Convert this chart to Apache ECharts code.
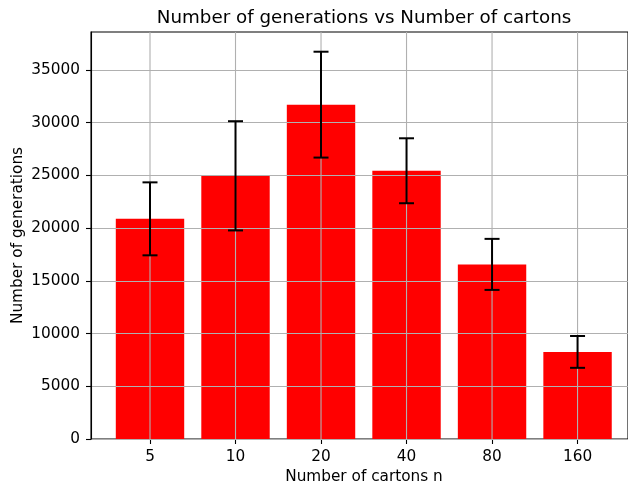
<!DOCTYPE html>
<html>
<head>
<meta charset="utf-8">
<script src="https://cdn.jsdelivr.net/npm/echarts@6/dist/echarts.min.js"></script>
<style>html,body{margin:0;padding:0;background:#fff;}#c{width:628px;height:484px;}</style>
</head>
<body>
<div id="c"></div>
<script>
const categories = ['5', '10', '20', '40', '80', '160'];
const means = [20880, 24960, 31710, 25440, 16560, 8260];
const errors = [3460, 5180, 5020, 3080, 2420, 1510];
const yTicks = [0, 5000, 10000, 15000, 20000, 25000, 30000, 35000];
const xTicks = [0, 1, 2, 3, 4, 5];

const FONT = 'DejaVu Sans';
const Y_MAX = 38600;
const chart = echarts.init(document.getElementById('c'), null, {renderer: 'canvas'});

const barData = means.map((v, i) => [i, v]);
const errData = means.map((v, i) => [i, v - errors[i], v + errors[i]]);

chart.setOption({
  animation: false,
  backgroundColor: '#fff',
  title: {
    text: 'Number of generations vs Number of cartons',
    left: 359, top: 4, textAlign: 'center',
    textStyle: {fontFamily: FONT, fontSize: 18.3, fontWeight: 'normal', color: '#000'}
  },
  grid: {left: 91, right: 0, top: 32, bottom: 45, show: true, borderColor: '#000', borderWidth: 1.1,
         containLabel: false, outerBoundsMode: 'none'},
  xAxis: {
    type: 'value', min: -0.69, max: 5.59,
    name: 'Number of cartons n', nameLocation: 'middle', nameGap: 31, nameMoveOverlap: false,
    nameTextStyle: {fontFamily: FONT, fontSize: 15.3, color: '#000', padding: [0, 0, 0, 9]},
    axisLine: {show: true, onZero: false, lineStyle: {color: '#000', width: 1.1}},
    axisTick: {show: true, customValues: xTicks, length: 5, lineStyle: {color: '#000', width: 1.1}},
    axisLabel: {customValues: xTicks, formatter: v => categories[v], fontFamily: FONT, fontSize: 15.3, color: '#000', margin: 10.5},
    splitLine: {show: false}
  },
  yAxis: {
    type: 'value', min: 0, max: Y_MAX, z: 3,
    name: 'Number of generations', nameLocation: 'middle', nameGap: 65, nameRotate: 90, nameMoveOverlap: false,
    nameTextStyle: {fontFamily: FONT, fontSize: 15.3, color: '#000'},
    axisLine: {show: true, onZero: false, lineStyle: {color: '#000', width: 1.1}},
    axisTick: {show: true, customValues: yTicks, length: 5, lineStyle: {color: '#000', width: 1.1}},
    axisLabel: {customValues: yTicks, formatter: v => String(v), fontFamily: FONT, fontSize: 15.3, color: '#000', margin: 11},
    splitLine: {show: true, lineStyle: {color: '#b0b0b0', width: 1.1}}
  },
  series: [
    {
      type: 'custom', z: 2,
      data: barData,
      renderItem: (params, api) => {
        const i = api.value(0), v = api.value(1);
        const base = api.coord([i, 0]);
        const top = api.coord([i, v]);
        const w = api.size([0.8, 0])[0];
        return {type: 'rect', shape: {x: base[0] - w / 2, y: top[1], width: w, height: base[1] - top[1]},
                style: {fill: '#ff0000'}};
      }
    },
    {
      type: 'custom', z: 4,
      data: xTicks.map(i => [i]),
      renderItem: (params, api) => {
        const i = api.value(0);
        const a = api.coord([i, 0]);
        const b = api.coord([i, Y_MAX]);
        return {type: 'line', shape: {x1: a[0], y1: a[1], x2: b[0], y2: b[1]},
                style: {stroke: '#b0b0b0', lineWidth: 1.1}};
      }
    },
    {
      type: 'custom', z: 6,
      data: errData,
      renderItem: (params, api) => {
        const i = api.value(0);
        const lo = api.coord([i, api.value(1)]);
        const hi = api.coord([i, api.value(2)]);
        const cap = 7.5;
        const st = {stroke: '#000', lineWidth: 2};
        return {type: 'group', children: [
          {type: 'line', shape: {x1: lo[0], y1: lo[1], x2: hi[0], y2: hi[1]}, style: st},
          {type: 'line', shape: {x1: lo[0] - cap, y1: lo[1], x2: lo[0] + cap, y2: lo[1]}, style: st},
          {type: 'line', shape: {x1: hi[0] - cap, y1: hi[1], x2: hi[0] + cap, y2: hi[1]}, style: st}
        ]};
      }
    }
  ]
});
</script>
</body>
</html>
